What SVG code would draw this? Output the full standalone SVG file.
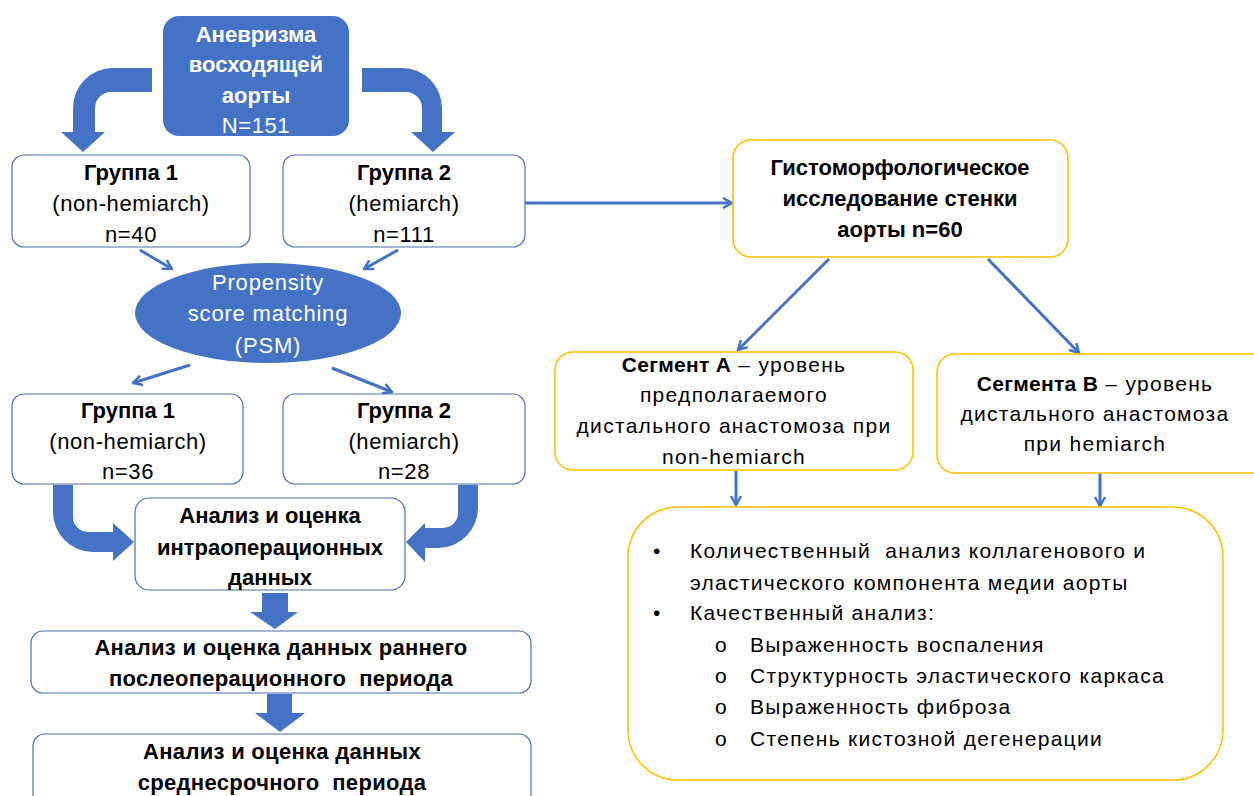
<svg xmlns="http://www.w3.org/2000/svg" width="1254" height="796" viewBox="0 0 1254 796">
<style>
text{font-family:"Liberation Sans",Arial,sans-serif;fill:#000;white-space:pre;}
.c{text-anchor:middle;}
.b{font-weight:bold;}
.w{fill:#fff;}
.s21{font-size:21px;}
.s22{font-size:22px;}
.lw{letter-spacing:0.6px;}
.lb{letter-spacing:0.3px;}
.rw{letter-spacing:1.3px;}
.bbox{fill:#fff;stroke:#4A6FB0;stroke-width:1.2;}
.ybox{fill:#fff;stroke:#FFC000;stroke-width:1.6;}
.blk{fill:#4472C4;stroke:none;}
.ln{stroke:#4472C4;stroke-width:3;fill:none;marker-end:url(#ah);}
</style>
<defs>
<marker id="ah" viewBox="0 0 12 12" refX="10.5" refY="6" markerWidth="12" markerHeight="12" markerUnits="userSpaceOnUse" orient="auto">
<path d="M1.5,1 L10.5,6 L1.5,11" fill="none" stroke="#4472C4" stroke-width="2.5"/>
</marker>
</defs>
<rect width="1254" height="796" fill="#fff"/>

<g id="connectors">
<path class="blk" d="M152,68 H113 A40,40 0 0 0 73,108 V132 H61 L83,152 L105,132 H95 V108 A16,16 0 0 1 111,92 H152 Z"/>
<path class="blk" d="M362,68 H402 A40,40 0 0 1 442,108 V132 H455 L433,152 L411,132 H422 V108 A16,16 0 0 0 406,92 H362 Z"/>
<path class="blk" d="M53,485 V512 A40,40 0 0 0 93,552 H113 V561 L134,542 L113,523 V532 H88 A15,15 0 0 1 73,517 V485 Z"/>
<path class="blk" d="M478,485 V508 A40,40 0 0 1 438,548 H425 V562 L406,542 L425,523 V528 H443 A15,15 0 0 0 458,513 V485 Z"/>
<path class="blk" d="M262,593 H288 V612 H298 L275,629 L250,612 H262 Z"/>
<path class="blk" d="M267,694 H292 V713 H305 L280,732 L255,713 H267 Z"/>
<line class="ln" x1="140" y1="250" x2="172" y2="269"/>
<line class="ln" x1="398" y1="250" x2="364" y2="269"/>
<line class="ln" x1="190" y1="365" x2="133" y2="383"/>
<line class="ln" x1="332" y1="368" x2="392" y2="392"/>
<line class="ln" x1="525" y1="203" x2="732" y2="203"/>
<line class="ln" x1="829" y1="259" x2="738" y2="350"/>
<line class="ln" x1="988" y1="259" x2="1079" y2="353"/>
<line class="ln" x1="736" y1="471" x2="736" y2="505"/>
<line class="ln" x1="1100" y1="473" x2="1100" y2="506"/>
</g>

<g id="aneurysm">
<rect x="163" y="16" width="186" height="120" rx="16" fill="#4472C4"/>
<text class="c b w s22" x="256" y="42">Аневризма</text>
<text class="c b w s22" x="256" y="72">восходящей</text>
<text class="c b w s22" x="256" y="103">аорты</text>
<text class="c w s22 lw" x="256" y="133">N=151</text>
</g>

<g id="group1a">
<rect class="bbox" x="12" y="155" width="238" height="92" rx="12"/>
<text class="c b s22" x="131" y="180">Группа 1</text>
<text class="c s22 lw" x="131" y="211">(non-hemiarch)</text>
<text class="c s22 lw" x="131" y="242">n=40</text>
</g>

<g id="group2a">
<rect class="bbox" x="283" y="155" width="242" height="92" rx="12"/>
<text class="c b s22" x="404" y="180">Группа 2</text>
<text class="c s22 lw" x="404" y="211">(hemiarch)</text>
<text class="c s22 lw" x="404" y="242">n=111</text>
</g>

<g id="psm">
<ellipse cx="268" cy="313" rx="133" ry="50" fill="#4472C4"/>
<text class="c w s22" x="268" y="290" style="letter-spacing:0.8px">Propensity</text>
<text class="c w s22" x="268" y="321" style="letter-spacing:0.8px">score matching</text>
<text class="c w s22" x="268" y="353" style="letter-spacing:0.8px">(PSM)</text>
</g>

<g id="group1b">
<rect class="bbox" x="12" y="394" width="231" height="90" rx="12"/>
<text class="c b s22" x="128" y="418">Группа 1</text>
<text class="c s22 lw" x="128" y="449">(non-hemiarch)</text>
<text class="c s22 lw" x="128" y="479">n=36</text>
</g>

<g id="group2b">
<rect class="bbox" x="283" y="394" width="242" height="90" rx="12"/>
<text class="c b s22" x="404" y="418">Группа 2</text>
<text class="c s22 lw" x="404" y="449">(hemiarch)</text>
<text class="c s22 lw" x="404" y="479">n=28</text>
</g>

<g id="intraop">
<rect class="bbox" x="135" y="498" width="270" height="92" rx="14"/>
<text class="c b s22" x="270" y="523">Анализ и оценка</text>
<text class="c b s22" x="270" y="555">интраоперационных</text>
<text class="c b s22" x="270" y="585">данных</text>
</g>

<g id="early">
<rect class="bbox" x="31" y="631" width="500" height="62" rx="12"/>
<text class="c b s22 lb" x="281" y="655">Анализ и оценка данных раннего</text>
<text class="c b s22 lb" x="281" y="686">послеоперационного  периода</text>
</g>

<g id="midterm">
<rect class="bbox" x="33" y="734" width="498" height="80" rx="12"/>
<text class="c b s22 lb" x="282" y="759">Анализ и оценка данных</text>
<text class="c b s22 lb" x="282" y="790">среднесрочного  периода</text>
</g>

<g id="histo">
<rect class="ybox" x="733" y="140" width="335" height="117" rx="18"/>
<text class="c b s22" x="900" y="175">Гистоморфологическое</text>
<text class="c b s22" x="900" y="206">исследование стенки</text>
<text class="c b s22" x="900" y="237">аорты n=60</text>
</g>

<g id="segA">
<rect class="ybox" x="555" y="352" width="358" height="118" rx="18"/>
<text class="c s21 rw" x="734" y="372"><tspan class="b" style="letter-spacing:0.3px">Сегмент A</tspan> – уровень</text>
<text class="c s21 rw" x="734" y="402">предполагаемого</text>
<text class="c s21 rw" x="734" y="433">дистального анастомоза при</text>
<text class="c s21 rw" x="734" y="464">non-hemiarch</text>
</g>

<g id="segB">
<rect class="ybox" x="937" y="354" width="340" height="119" rx="18"/>
<text class="c s21 rw" x="1095" y="391"><tspan class="b" style="letter-spacing:0.3px">Сегмента B</tspan> – уровень</text>
<text class="c s21 rw" x="1095" y="421">дистального анастомоза</text>
<text class="c s21 rw" x="1095" y="451">при hemiarch</text>
</g>

<g id="analysis">
<rect class="ybox" x="628" y="507" width="595" height="273" rx="50"/>
<text class="s21" x="653" y="558">•</text>
<text class="s21 rw" x="690" y="558">Количественный  анализ коллагенового и</text>
<text class="s21 rw" x="690" y="590">эластического компонента медии аорты</text>
<text class="s21" x="653" y="620">•</text>
<text class="s21 rw" x="690" y="620">Качественный анализ:</text>
<text class="s21" x="715" y="652">o</text>
<text class="s21 rw" x="750" y="652">Выраженность воспаления</text>
<text class="s21" x="715" y="683">o</text>
<text class="s21 rw" x="750" y="683">Структурность эластического каркаса</text>
<text class="s21" x="715" y="714">o</text>
<text class="s21 rw" x="750" y="714">Выраженность фиброза</text>
<text class="s21" x="715" y="746">o</text>
<text class="s21 rw" x="750" y="746">Степень кистозной дегенерации</text>
</g>
</svg>
